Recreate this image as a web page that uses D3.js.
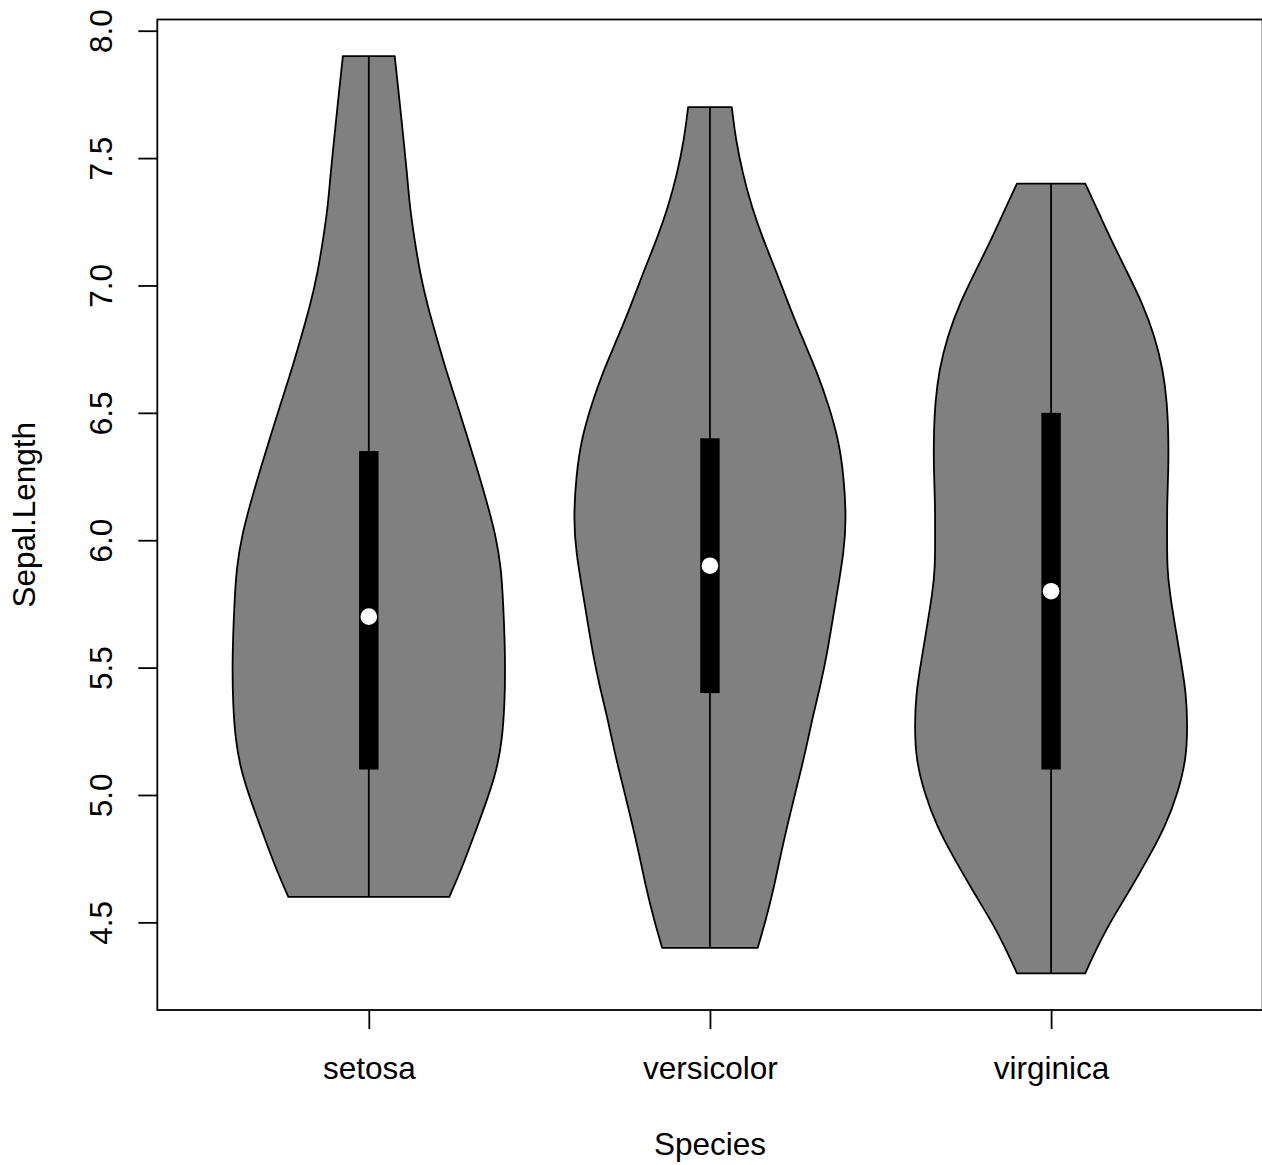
<!DOCTYPE html>
<html>
<head>
<meta charset="utf-8">
<script src="https://cdn.jsdelivr.net/npm/d3@7"></script>
<style>
  body { margin: 0; background: #fff; }
  svg { display: block; font-family: 'Liberation Sans', Arial, sans-serif; }
</style>
</head>
<body>
<svg id="chart" width="1262" height="1165"></svg>
<script>
// categories and summary stats
const species = ['setosa', 'versicolor', 'virginica'];
const mins = [4.6, 4.4, 4.3];
const maxs = [7.9, 7.7, 7.4];
const q1s = [5.1, 5.4, 5.1];
const q3s = [6.35, 6.4, 6.5];
const medians = [5.7, 5.9, 5.8];
const yTicks = [4.5, 5.0, 5.5, 6.0, 6.5, 7.0, 7.5, 8.0];

// violin outlines: value along y, relative density (1 = widest)
const setosaValues = [4.60, 4.71, 4.84, 4.97, 5.10, 5.23, 5.36, 5.49, 5.62, 5.75, 5.89, 6.02, 6.15, 6.27, 6.40, 6.53, 6.66, 6.79, 6.92, 7.05, 7.18, 7.31, 7.44, 7.57, 7.70, 7.80, 7.90];
const setosaDensity = [0.59, 0.68, 0.77, 0.86, 0.94, 0.98, 0.995, 1.0, 0.995, 0.985, 0.97, 0.93, 0.865, 0.80, 0.725, 0.65, 0.57, 0.50, 0.43, 0.375, 0.335, 0.30, 0.28, 0.255, 0.23, 0.21, 0.19];

const versicolorValues = [4.40, 4.51, 4.64, 4.77, 4.91, 5.04, 5.17, 5.30, 5.43, 5.56, 5.69, 5.82, 5.95, 6.08, 6.26, 6.40, 6.53, 6.66, 6.79, 6.92, 7.05, 7.18, 7.31, 7.44, 7.57, 7.70];
const versicolorDensity = [0.35, 0.41, 0.47, 0.52, 0.58, 0.64, 0.70, 0.75, 0.81, 0.86, 0.90, 0.94, 0.98, 1.0, 0.98, 0.94, 0.87, 0.785, 0.68, 0.58, 0.49, 0.39, 0.305, 0.24, 0.19, 0.16];

const virginicaValues = [4.30, 4.36, 4.49, 4.62, 4.75, 4.88, 5.01, 5.14, 5.27, 5.40, 5.53, 5.66, 5.79, 5.89, 6.02, 6.15, 6.28, 6.41, 6.54, 6.67, 6.80, 6.93, 7.06, 7.19, 7.32, 7.40];
const virginicaDensity = [0.25, 0.30, 0.42, 0.57, 0.71, 0.84, 0.93, 0.99, 1.0, 0.99, 0.95, 0.91, 0.87, 0.85, 0.85, 0.85, 0.86, 0.86, 0.85, 0.82, 0.76, 0.67, 0.55, 0.43, 0.32, 0.25];

const violinValues = [setosaValues, versicolorValues, virginicaValues];
const violinDensity = [setosaDensity, versicolorDensity, virginicaDensity];

const fontSize = '31.5px';
const lw = 1.8;

const svg = d3.select('#chart');

// R style: xlim c(0.5, 3.5) and ylim over data range, each padded 4%
const x = d3.scaleLinear().domain([0.38, 3.62]).range([157.3, 1262.6]);
const y = d3.scaleLinear().domain([4.156, 8.044]).range([1010, 19.5]);

const halfWidth = 0.4,
  boxHalf = 0.0285;

const violins = species.map((s, i) => ({
  name: s,
  pos: i + 1,
  pts: violinValues[i].map((v, j) => ({v: v, d: violinDensity[i][j]})),
  min: mins[i],
  max: maxs[i],
  q1: q1s[i],
  q3: q3s[i],
  med: medians[i]
}));

const gViolin = svg
  .selectAll('.violin')
  .data(violins)
  .enter()
  .append('g')
  .attr('class', d => 'violin violin_' + d.name);

gViolin
  .append('path')
  .attr('d', d =>
    d3
      .area()
      .y(p => y(p.v))
      .x0(p => x(d.pos - halfWidth * p.d))
      .x1(p => x(d.pos + halfWidth * p.d))
      .curve(d3.curveBasis)(d.pts)
  )
  .style('fill', '#808080')
  .style('stroke', '#000')
  .style('stroke-width', lw)
  .style('stroke-linejoin', 'round');

gViolin
  .append('line')
  .attr('x1', d => x(d.pos))
  .attr('x2', d => x(d.pos))
  .attr('y1', d => y(d.min))
  .attr('y2', d => y(d.max))
  .style('stroke', '#000')
  .style('stroke-width', lw);

gViolin
  .append('rect')
  .attr('x', d => x(d.pos - boxHalf))
  .attr('width', d => x(d.pos + boxHalf) - x(d.pos - boxHalf))
  .attr('y', d => y(d.q3))
  .attr('height', d => y(d.q1) - y(d.q3))
  .style('fill', '#000');

gViolin
  .append('circle')
  .attr('cx', d => x(d.pos))
  .attr('cy', d => y(d.med))
  .attr('r', 8.3)
  .style('fill', '#fff');

// frame
svg
  .append('rect')
  .attr('x', x(0.38))
  .attr('y', y(8.044))
  .attr('width', x(3.62) - x(0.38))
  .attr('height', y(4.156) - y(8.044))
  .style('fill', 'none')
  .style('stroke', '#000')
  .style('stroke-width', lw);

// y axis, labels rotated like R's las=0
const yAxis = svg
  .append('g')
  .attr('transform', 'translate(' + x(0.38) + ',0)')
  .call(d3.axisLeft(y).tickValues(yTicks).tickSize(19).tickFormat(d3.format('.1f')));
yAxis.select('.domain').remove();
yAxis.selectAll('line').style('stroke-width', lw);
yAxis
  .selectAll('text')
  .attr('transform', 'rotate(-90)')
  .attr('x', 0)
  .attr('y', -45.3)
  .attr('dy', 0)
  .attr('text-anchor', 'middle')
  .style('font-size', fontSize)
  .style('fill', '#000');

// x axis
const xAxis = svg
  .append('g')
  .attr('transform', 'translate(0,' + y(4.156) + ')')
  .call(d3.axisBottom(x).tickValues([1, 2, 3]).tickSize(19).tickFormat(d => species[d - 1]));
xAxis.select('.domain').remove();
xAxis.selectAll('line').style('stroke-width', lw);
xAxis
  .selectAll('text')
  .attr('y', 69)
  .attr('dy', 0)
  .style('font-size', fontSize)
  .style('fill', '#000');

// axis titles
svg
  .append('text')
  .text('Species')
  .attr('x', x(2))
  .attr('y', 1155)
  .attr('text-anchor', 'middle')
  .style('font-size', fontSize);

svg
  .append('text')
  .text('Sepal.Length')
  .attr('transform', 'translate(35,' + (y(4.156) + y(8.044)) / 2 + ') rotate(-90)')
  .attr('text-anchor', 'middle')
  .style('font-size', fontSize);
</script>
</body>
</html>
